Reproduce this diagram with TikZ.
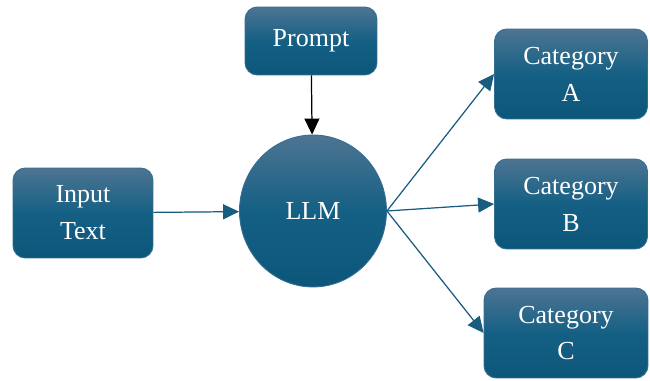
\documentclass[tikz,border=0pt]{standalone}
\usepackage{fontspec}
\setmainfont{Liberation Serif}
\usepackage{tikz}
\usetikzlibrary{positioning,arrows.meta,shapes.geometric}
\definecolor{boxtop}{RGB}{78,116,146}
\definecolor{boxmid}{RGB}{20,96,132}
\definecolor{boxbot}{RGB}{12,86,122}
\definecolor{boxedge}{RGB}{52,110,145}
\definecolor{linkblue}{RGB}{24,92,128}

\begin{document}
\begin{tikzpicture}[x=0.02cm, y=-0.02cm,
    cbox/.style={draw=boxedge, rounded corners=7pt, align=center, minimum width=2.8cm, minimum height=1.8cm,
                 inner sep=2pt, text=white, font=\fontsize{14.8}{21}\selectfont, line width=0.5pt,
                 top color=boxtop, bottom color=boxbot, middle color=boxmid},
    cnode/.style={draw=boxedge, ellipse, minimum width=2.94cm, minimum height=3.04cm, inner sep=0pt,
                  text=white, font=\fontsize{14.8}{21}\selectfont, line width=0.5pt,
                  top color=boxtop, bottom color=boxbot, middle color=boxmid},
    arr/.style={-{Triangle[length=0.32cm, width=0.3cm]}, line width=0.7pt, draw=linkblue, fill=linkblue}
]
\useasboundingbox (0,0) rectangle (650,381);
\node[cbox]                                      (input)  at (83,213)  {Input\\Text};
\node[cbox, minimum width=2.64cm, minimum height=1.36cm] (prompt) at (311,41) {Prompt};
\node[cnode]                                     (llm)    at (313,211) {LLM};
\node[cbox, minimum width=3.06cm]                (catA)   at (571,74)  {Category\\A};
\node[cbox, minimum width=3.06cm]                (catB)   at (571,204) {Category\\B};
\node[cbox, minimum width=3.28cm]                (catC)   at (566,333) {Category\\C};
\draw[arr] (input) -- (llm);
\draw[arr, draw=black, fill=black] (prompt) -- (llm);
\draw[arr] (llm.east) -- (catA.west);
\draw[arr] (llm.east) -- (catB.west);
\draw[arr] (llm.east) -- (catC.west);
\end{tikzpicture}
\end{document}
